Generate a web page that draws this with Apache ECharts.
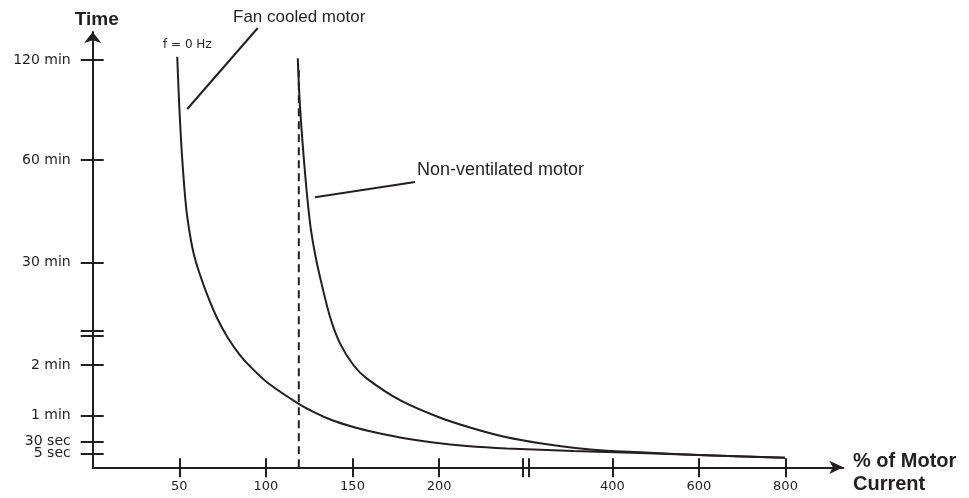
<!DOCTYPE html>
<html><head><meta charset="utf-8">
<script src="https://cdn.jsdelivr.net/npm/echarts@6/dist/echarts.min.js"></script>
<style>html,body{margin:0;padding:0;background:#fff}#c{width:969px;height:498px}</style>
</head><body><div id="c"></div>
<script>
// ---------- data ----------
const xTickValues = [50, 100, 150, 200, 400, 600, 800];
const xTickLabels = ['50', '100', '150', '200', '400', '600', '800'];
const yTickSeconds = [5, 30, 60, 120, 1800, 3600, 7200];
const yTickLabels = ['5 sec', '30 sec', '1 min', '2 min', '30 min', '60 min', '120 min'];

// Fan cooled motor (current %, time s)
const fanCurrent = [48.8, 50, 51.6, 53.9, 56.2, 58.5, 62, 66.6, 71.8, 78.1, 85, 92, 101.2, 118.7, 128.3, 138.7, 148.6, 158.2, 177.4, 196.7, 231.9, 278.1, 355, 464, 598.6, 799];
const fanSeconds = [7320, 5520, 3720, 2780, 2286, 1935, 1598, 1237, 892, 563, 284, 116, 98.5, 74, 63.3, 54.1, 47.8, 42.7, 34.8, 28.3, 20.7, 15.3, 10, 5.6, 4.4, 3.4];

// Non-ventilated motor (current %, time s)
const nonVentCurrent = [118.4, 119.7, 122.6, 125.5, 128.3, 131.2, 137, 142.8, 150.5, 158.2, 177.4, 200.5, 239.5, 278.1, 316.5, 355, 393.5, 464, 598.6, 799];
const nonVentSeconds = [7260, 5520, 3370, 2490, 1965, 1570, 913, 476, 120, 104, 78, 57.5, 45, 35, 26.6, 17.1, 10.6, 7.2, 4.4, 3.4];

// dashed limit line (current %, time s)
const limitCurrent = [119, 119];
const limitSeconds = [0, 6840];

// leader lines of the annotations (current %, time s)
const fanLeaderCurrent = [54.6, 95.3];
const fanLeaderSeconds = [5436, 8352];
const nvLeaderCurrent = [128.3, 186.1];
const nvLeaderSeconds = [2946, 3215];

// ---------- schematic (broken) axis scales ----------
const xAnchorPct = [0, 200, 400, 800];
const xAnchorPos = [0, 4, 6, 8];
const yAnchorSec = [0, 5, 30, 60, 120, 1800, 3600, 7200];
const yAnchorPos = [0, 14, 25.6, 52, 102.3, 204.6, 307.3, 407.3];
const xBreakPct = 300, xBreakHalf = 0.038;
const yBreakSec = 640, yBreakHalf = 2.65;

function mapPiece(v, src, dst) {
  let i = 1;
  while (i < src.length - 1 && v > src[i]) i++;
  const t = (v - src[i - 1]) / (src[i] - src[i - 1]);
  return dst[i - 1] + t * (dst[i] - dst[i - 1]);
}
const toX = p => mapPiece(p, xAnchorPct, xAnchorPos);
const toY = s => mapPiece(s, yAnchorSec, yAnchorPos);
const pairs = (xs, ys) => xs.map((x, i) => [toX(x), toY(ys[i])]);

const xLabelPos = xTickValues.map(toX);
const xTickPos = xLabelPos.concat([toX(xBreakPct) - xBreakHalf, toX(xBreakPct) + xBreakHalf]);
const yLabelPos = yTickSeconds.map(toY);
const yTickPos = yLabelPos.concat([toY(yBreakSec) - yBreakHalf, toY(yBreakSec) + yBreakHalf]);
// split labels over two axes so close neighbours are never dropped
const yLabelPosA = yLabelPos.filter((_, i) => i % 2 === 0);
const yLabelPosB = yLabelPos.filter((_, i) => i % 2 === 1);

const INK = '#231f20';
const FONT = '"Liberation Sans", Arial, Helvetica, sans-serif';
const TICKFONT = '"DejaVu Sans", sans-serif';
const X_MAX = 750.6 / 86.6;
const Y_MAX = 435.3;

function lookup(v, pos, labels) {
  for (let i = 0; i < pos.length; i++) if (Math.abs(pos[i] - v) < 1e-6) return labels[i];
  return '';
}

const chart = echarts.init(document.getElementById('c'), null, { renderer: 'canvas' });
const lineBase = { type: 'line', symbol: 'none', silent: true, animation: false, xAxisIndex: 0, yAxisIndex: 0 };
const yLabelStyle = { margin: 22, fontSize: 14, fontFamily: TICKFONT, color: INK, hideOverlap: false,
  formatter: v => lookup(v, yLabelPos, yTickLabels) };

chart.setOption({
  animation: false,
  backgroundColor: '#ffffff',
  grid: { left: 92.7, top: 32, width: 750.6, height: Y_MAX, outerBoundsMode: 'none', containLabel: false },
  xAxis: [{
    type: 'value', min: 0, max: X_MAX, position: 'bottom',
    axisLine: { show: true, symbol: ['none', 'arrow'], symbolSize: [10, 14], lineStyle: { color: INK, width: 2 } },
    axisTick: { show: true, customValues: xTickPos, length: 10, lineStyle: { color: INK, width: 2 } },
    axisLabel: { show: true, customValues: xLabelPos, formatter: v => lookup(v, xLabelPos, xTickLabels),
      margin: 13, fontSize: 13, fontFamily: TICKFONT, color: INK, hideOverlap: false },
    splitLine: { show: false }
  }, {
    type: 'value', min: 0, max: X_MAX, position: 'bottom',
    axisLine: { show: false },
    axisTick: { show: true, inside: true, customValues: xTickPos, length: 9, lineStyle: { color: INK, width: 2 } },
    axisLabel: { show: false }, splitLine: { show: false }
  }],
  yAxis: [{
    type: 'value', min: 0, max: Y_MAX, position: 'left',
    axisLine: { show: true, symbol: ['none', 'arrow'], symbolSize: [13, 11], lineStyle: { color: INK, width: 2 } },
    axisTick: { show: true, customValues: yTickPos, length: 12, lineStyle: { color: INK, width: 2 } },
    axisLabel: Object.assign({ show: true, customValues: yLabelPosA }, yLabelStyle),
    splitLine: { show: false },
    name: 'Time', nameLocation: 'end', nameGap: 3,
    nameTextStyle: { fontWeight: 'bold', fontSize: 19, fontFamily: FONT, color: INK, padding: [0, 0, 0, 8] }
  }, {
    type: 'value', min: 0, max: Y_MAX, position: 'left', offset: 0,
    axisLine: { show: false },
    axisTick: { show: true, inside: true, customValues: yTickPos, length: 11, lineStyle: { color: INK, width: 2 } },
    axisLabel: Object.assign({ show: true, customValues: yLabelPosB }, yLabelStyle),
    splitLine: { show: false }
  }],
  series: [
    Object.assign({}, lineBase, { name: 'Fan cooled motor', data: pairs(fanCurrent, fanSeconds), smooth: 0.3,
      lineStyle: { color: INK, width: 2 } }),
    Object.assign({}, lineBase, { name: 'Non-ventilated motor', data: pairs(nonVentCurrent, nonVentSeconds), smooth: 0.3,
      lineStyle: { color: INK, width: 2 } }),
    Object.assign({}, lineBase, { name: 'f = 0 Hz', data: pairs(limitCurrent, limitSeconds),
      lineStyle: { color: INK, width: 2, type: [8, 5] } }),
    Object.assign({}, lineBase, { name: 'leader1', data: pairs(fanLeaderCurrent, fanLeaderSeconds), clip: false,
      lineStyle: { color: INK, width: 2 } }),
    Object.assign({}, lineBase, { name: 'leader2', data: pairs(nvLeaderCurrent, nvLeaderSeconds), clip: false,
      lineStyle: { color: INK, width: 2 } })
  ],
  graphic: [
    { type: 'text', x: 233, y: 17, silent: true,
      style: { text: 'Fan cooled motor', fontSize: 17, fontFamily: FONT, fill: INK, align: 'left', verticalAlign: 'middle' } },
    { type: 'text', x: 163, y: 45, silent: true,
      style: { text: 'f = 0 Hz', fontSize: 12, fontFamily: TICKFONT, fill: INK, align: 'left', verticalAlign: 'middle' } },
    { type: 'text', x: 417, y: 170, silent: true,
      style: { text: 'Non-ventilated motor', fontSize: 18, fontFamily: FONT, fill: INK, align: 'left', verticalAlign: 'middle' } },
    { type: 'text', x: 853, y: 473.4, silent: true,
      style: { text: '% of Motor\nCurrent', fontSize: 20, fontWeight: 'bold', lineHeight: 23, fontFamily: FONT, fill: INK,
        align: 'left', verticalAlign: 'middle' } }
  ]
});
</script>
</body></html>
